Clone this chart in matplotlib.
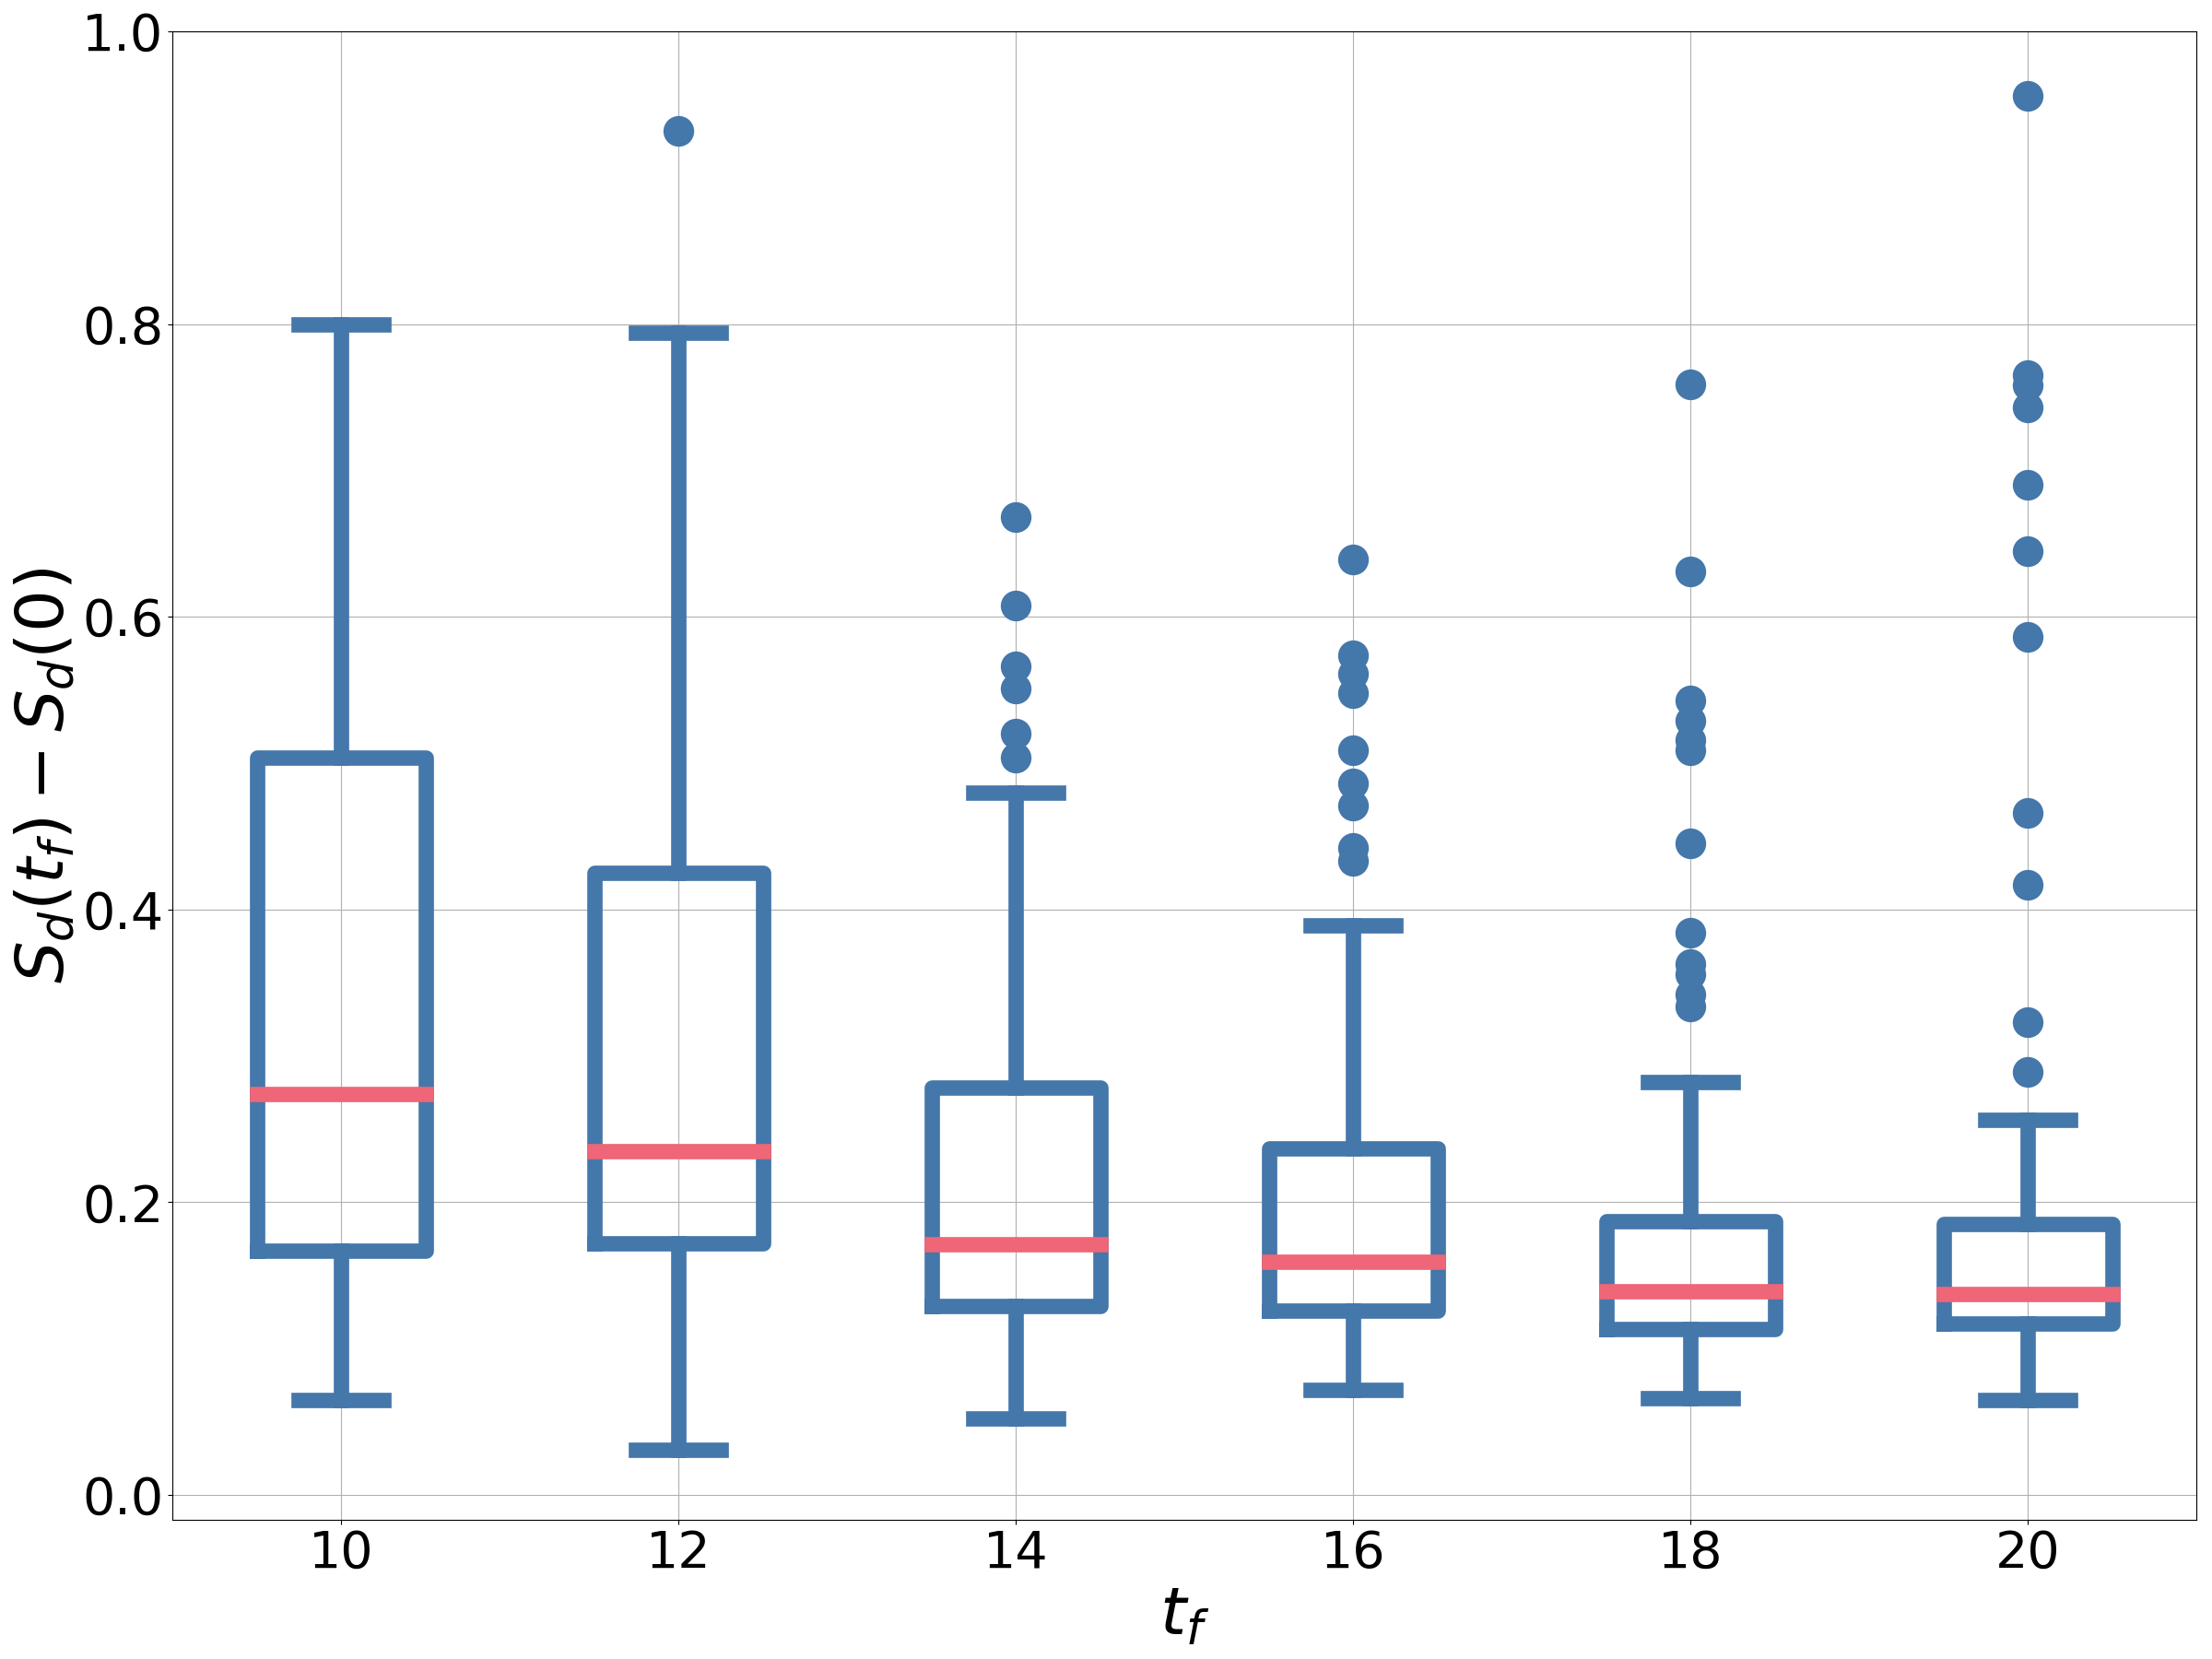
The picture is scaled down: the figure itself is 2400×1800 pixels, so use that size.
import matplotlib
matplotlib.use("Agg")
import matplotlib.pyplot as plt

# t_f values and box statistics
positions = [10, 12, 14, 16, 18, 20]
whislo = [0.065, 0.031, 0.052, 0.072, 0.066, 0.065]
q1 = [0.167, 0.172, 0.129, 0.126, 0.113, 0.117]
med = [0.274, 0.235, 0.171, 0.159, 0.139, 0.137]
q3 = [0.504, 0.425, 0.278, 0.237, 0.187, 0.185]
whishi = [0.800, 0.794, 0.480, 0.389, 0.282, 0.256]
fliers = [
    [],
    [0.932],
    [0.668, 0.608, 0.566, 0.551, 0.520, 0.504],
    [0.639, 0.574, 0.561, 0.548, 0.509, 0.486, 0.471, 0.442, 0.433],
    [0.759, 0.631, 0.543, 0.529, 0.516, 0.509, 0.445, 0.384, 0.363, 0.356, 0.342, 0.334],
    [0.956, 0.765, 0.758, 0.743, 0.690, 0.645, 0.586, 0.466, 0.417, 0.323, 0.289],
]

blue = "#4477AA"
red = "#EE6677"

stats = []
for i in range(len(positions)):
    stats.append(dict(whislo=whislo[i], q1=q1[i], med=med[i], q3=q3[i],
                      whishi=whishi[i], fliers=fliers[i]))

fig, ax = plt.subplots(figsize=(24, 18), dpi=100)
fig.subplots_adjust(left=0.078, right=0.993, top=0.981, bottom=0.084)

lw = 12
ax.bxp(stats, positions=positions, widths=1.0, capwidths=0.5,
       boxprops=dict(color=blue, linewidth=lw),
       whiskerprops=dict(color=blue, linewidth=lw),
       capprops=dict(color=blue, linewidth=lw),
       medianprops=dict(color=red, linewidth=lw, solid_capstyle="projecting"),
       flierprops=dict(marker="o", markerfacecolor=blue, markeredgecolor="none",
                       markersize=24))

ax.set_xlim(9, 21)
ax.set_ylim(-0.017, 1.0)
ax.set_xticks(positions)
ax.set_xticklabels([str(p) for p in positions])
ax.set_yticks([0.0, 0.2, 0.4, 0.6, 0.8, 1.0])
ax.grid(True)
ax.set_axisbelow(True)
ax.tick_params(labelsize=40)
ax.set_xlabel(r"$t_f$", fontsize=52)
ax.set_ylabel(r"$S_d(t_f) - S_d(0)$", fontsize=52)

fig.savefig("out.png")
